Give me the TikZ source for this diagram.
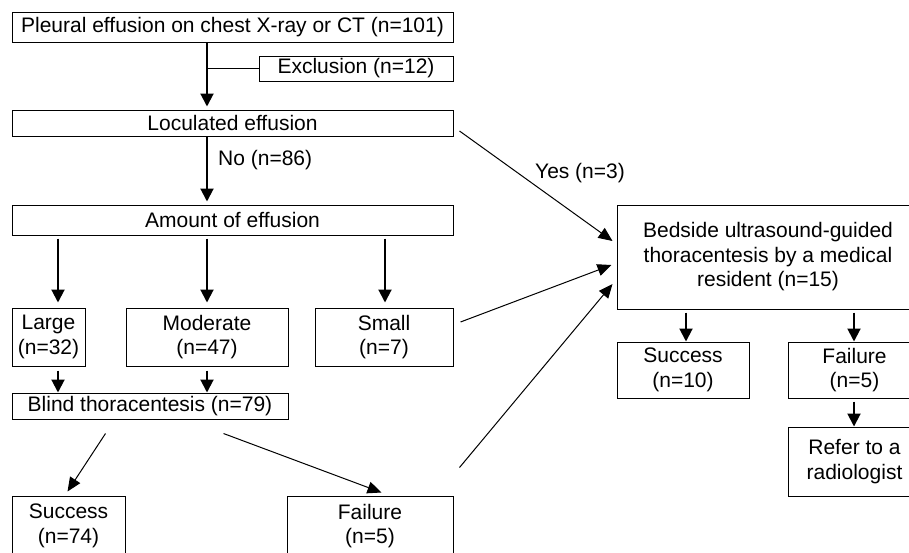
\documentclass[tikz,border=0pt]{standalone}
\usepackage{fontspec}
\setmainfont{Liberation Sans}
\usetikzlibrary{arrows.meta,calc}
\begin{document}
\begin{tikzpicture}[x=1pt,y=-1pt,
  box/.style={draw=black,line width=1pt,inner sep=0pt,align=center,
    font=\fontsize{21}{24.5}\selectfont},
  lbl/.style={inner sep=0pt,font=\fontsize{21}{24.5}\selectfont},
  varr/.style={line width=2pt,-{Triangle[width=13pt,length=13pt]}},
  darr/.style={line width=1pt,-{Triangle[width=12pt,length=14pt]}},
  thin/.style={line width=1pt}]
\useasboundingbox (0,0) rectangle (909,552);
\coordinate (cL) at (58,0);
\coordinate (cM) at (207,0);
\coordinate (cS) at (385,0);
\coordinate (cR1) at (686,0);
\coordinate (cR2) at (854,0);
% nodes
\node[box,minimum width=441pt,minimum height=30pt] (top) at (232.5,27) {Pleural effusion on chest X-ray or CT (n=101)};
\node[box,minimum width=194pt,minimum height=25pt] (excl) at (356,68.5) {Exclusion (n=12)};
\node[box,minimum width=441pt,minimum height=26pt] (loc) at (232.5,123) {Loculated effusion};
\node[box,minimum width=441pt,minimum height=30pt] (amount) at (232.5,220) {Amount of effusion};
\node[box,minimum width=73pt,minimum height=58pt] (large) at (48.5,337) {Large\\(n=32)};
\node[box,minimum width=162pt,minimum height=58pt] (moderate) at (207,337) {Moderate\\(n=47)};
\node[box,minimum width=138pt,minimum height=58pt] (small) at (384,337) {Small\\(n=7)};
\node[box,minimum width=276pt,minimum height=26pt] (blind) at (150,406) {Blind thoracentesis (n=79)};
\node[box,minimum width=113pt,minimum height=60pt] (succ1) at (68.5,526) {Success\\(n=74)};
\node[box,minimum width=166pt,minimum height=60pt] (fail1) at (370,526) {Failure\\(n=5)};
\node[box,minimum width=302pt,minimum height=104pt] (bed) at (768,257) {Bedside ultrasound-guided\\thoracentesis by a medical\\resident (n=15)};
\node[box,minimum width=132pt,minimum height=56pt] (succ2) at (683,370) {Success\\(n=10)};
\node[box,minimum width=133pt,minimum height=56pt] (fail2) at (854.5,370) {Failure\\(n=5)};
\node[box,minimum width=133pt,minimum height=69pt] (refer) at (854.5,461.5) {Refer to a\\radiologist};
\node[lbl,anchor=west] (nolbl) at (218,160) {No (n=86)};
\node[lbl] (yeslbl) at (580,173) {Yes (n=3)};
% connectors
\draw[varr,shorten >=3pt] (top.south -| cM) -- (loc.north -| cM);
\draw[thin] (excl.west) -- (excl.west -| cM);
\draw[varr,shorten >=3pt] (loc.south -| cM) -- (amount.north -| cM);
\draw[varr,shorten <=3pt,shorten >=5pt] (amount.south -| cL) -- (large.north -| cL);
\draw[varr,shorten <=3pt,shorten >=5pt] (amount.south -| cM) -- (moderate.north -| cM);
\draw[varr,shorten <=3pt,shorten >=5pt] (amount.south -| cS) -- (small.north -| cS);
\draw[varr,shorten <=4pt] (large.south -| cL) -- (blind.north -| cL);
\draw[varr,shorten <=4pt] (moderate.south -| cM) -- (blind.north -| cM);
\draw[darr] ($(blind.south west)+(94,14)$) -- ($(succ1.north west)+(56,-4)$);
\draw[darr] ($(blind.south west)+(212,14)$) -- ($(fail1.north west)+(95,-3)$);
\draw[darr] ($(loc.east)+(6,8)$) -- ($(bed.west)+(-4,-16)$);
\draw[darr] ($(small.east)+(7,-15)$) -- ($(bed.west)+(-5,8)$);
\draw[darr] ($(fail1.north east)+(6,-28)$) -- ($(bed.west)+(-4,27)$);
\draw[varr,shorten <=3pt] (bed.south -| cR1) -- (succ2.north -| cR1);
\draw[varr,shorten <=3pt] (bed.south -| cR2) -- (fail2.north -| cR2);
\draw[varr,shorten <=3pt] (fail2.south -| cR2) -- (refer.north -| cR2);
\end{tikzpicture}
\end{document}
